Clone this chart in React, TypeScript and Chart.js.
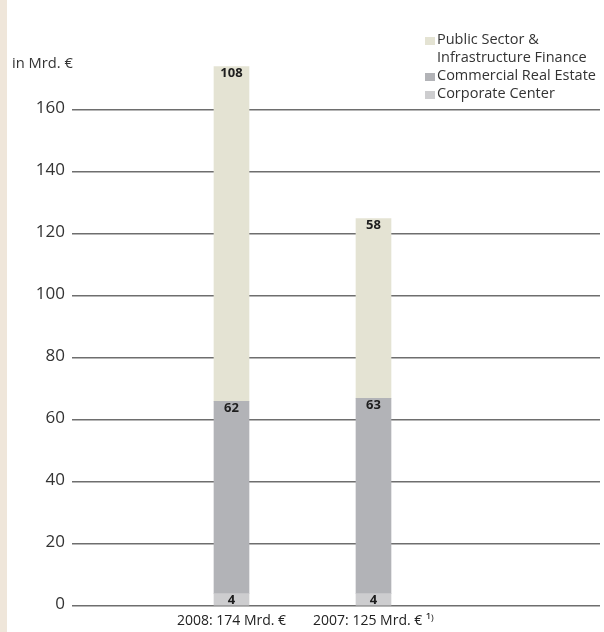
import { useEffect, useRef } from 'react';
import { Chart, registerables } from 'chart.js';

Chart.register(...registerables);

const FONT = '"Open Sans", "DejaVu Sans", sans-serif';

const categories = ['2008: 174 Mrd. €', '2007: 125 Mrd. € ¹⁾'];
const xPositions = [1, 2];
const corporateCenter = [4, 4];
const commercialRealEstate = [62, 63];
const publicSector = [108, 58];
const yTicks = [0, 20, 40, 60, 80, 100, 120, 140, 160];

const COLORS = {
  publicSector: '#e4e3d3',
  commercial: '#b2b3b7',
  corporate: '#cdcdcf',
};

const legendItems = [
  { lines: ['Public Sector &', 'Infrastructure Finance'], color: COLORS.publicSector },
  { lines: ['Commercial Real Estate'], color: COLORS.commercial },
  { lines: ['Corporate Center'], color: COLORS.corporate },
];

const segLabels = {
  id: 'segLabels',
  afterDatasetsDraw(chart: any) {
    const ctx = chart.ctx;
    ctx.save();
    ctx.font = `bold 13px ${FONT}`;
    ctx.fillStyle = '#1e1e1e';
    ctx.textAlign = 'center';
    ctx.textBaseline = 'top';
    chart.data.datasets.forEach((ds: any, i: number) => {
      const meta = chart.getDatasetMeta(i);
      meta.data.forEach((el: any, j: number) => {
        const v = ds.data[j].y;
        ctx.fillText(String(v), el.x, el.y + 0.5);
      });
    });
    ctx.restore();
  },
};

const toPoints = (arr: number[]) => arr.map((y, i) => ({ x: xPositions[i], y }));

export default function App() {
  const ref = useRef<HTMLCanvasElement | null>(null);

  useEffect(() => {
    if (!ref.current) return;
    const chart = new Chart(ref.current, {
      type: 'bar',
      data: {
        datasets: [
          { label: 'Corporate Center', data: toPoints(corporateCenter), backgroundColor: COLORS.corporate, barThickness: 35 },
          { label: 'Commercial Real Estate', data: toPoints(commercialRealEstate), backgroundColor: COLORS.commercial, barThickness: 35 },
          { label: 'Public Sector & Infrastructure Finance', data: toPoints(publicSector), backgroundColor: COLORS.publicSector, barThickness: 35 },
        ] as any,
      },
      options: {
        animation: false,
        responsive: false,
        layout: { padding: { top: 63.5, right: 4, left: 0, bottom: 0 } },
        plugins: { legend: { display: false }, tooltip: { enabled: false } },
        scales: {
          x: {
            type: 'linear',
            min: -0.1232,
            max: 3.5951,
            stacked: true,
            offset: false,
            grid: { display: false },
            border: { display: false },
            afterBuildTicks: (s: any) => {
              s.ticks = xPositions.map((v) => ({ value: v }));
            },
            afterFit: (s: any) => {
              s.height = 26;
            },
            ticks: {
              autoSkip: false,
              maxRotation: 0,
              padding: -1,
              color: '#222',
              font: { family: FONT, size: 14 },
              callback: (v: any) => categories[xPositions.indexOf(Number(v))] ?? '',
            },
          } as any,
          y: {
            min: 0,
            max: 175,
            stacked: true,
            grid: { color: '#6e6e6e', lineWidth: 1.5, drawTicks: false },
            border: { display: false },
            afterBuildTicks: (s: any) => {
              s.ticks = yTicks.map((v) => ({ value: v }));
            },
            afterFit: (s: any) => {
              s.width = 72;
            },
            ticks: {
              padding: 7,
              labelOffset: -2,
              color: '#333',
              font: { family: FONT, size: 17 },
            },
          } as any,
        },
      },
      plugins: [segLabels],
    });
    return () => chart.destroy();
  }, []);

  return (
    <div
      style={{
        position: 'fixed',
        left: 0,
        top: 0,
        width: 604,
        height: 632,
        background: '#fff',
        overflow: 'hidden',
        fontFamily: FONT,
      }}
    >
      <div style={{ position: 'absolute', left: 0, top: 0, width: 7, height: 632, background: '#efe6da' }} />
      <canvas ref={ref} width={604} height={632} style={{ position: 'absolute', left: 0, top: 0 }} />
      <div style={{ position: 'absolute', left: 12, top: 53, fontSize: 14.7, lineHeight: '18px', color: '#333', whiteSpace: 'nowrap' }}>
        in Mrd. €
      </div>
      <div style={{ position: 'absolute', left: 425, top: 29.5 }}>
        {legendItems.map((it, i) => (
          <div key={i} style={{ position: 'relative', paddingLeft: 12 }}>
            <div
              style={{
                position: 'absolute',
                left: 0,
                top: 7,
                width: 10,
                height: 8,
                background: it.color,
              }}
            />
            {it.lines.map((l, k) => (
              <div key={k} style={{ fontSize: 14.5, lineHeight: '18.3px', color: '#333', whiteSpace: 'nowrap' }}>
                {l}
              </div>
            ))}
          </div>
        ))}
      </div>
    </div>
  );
}
